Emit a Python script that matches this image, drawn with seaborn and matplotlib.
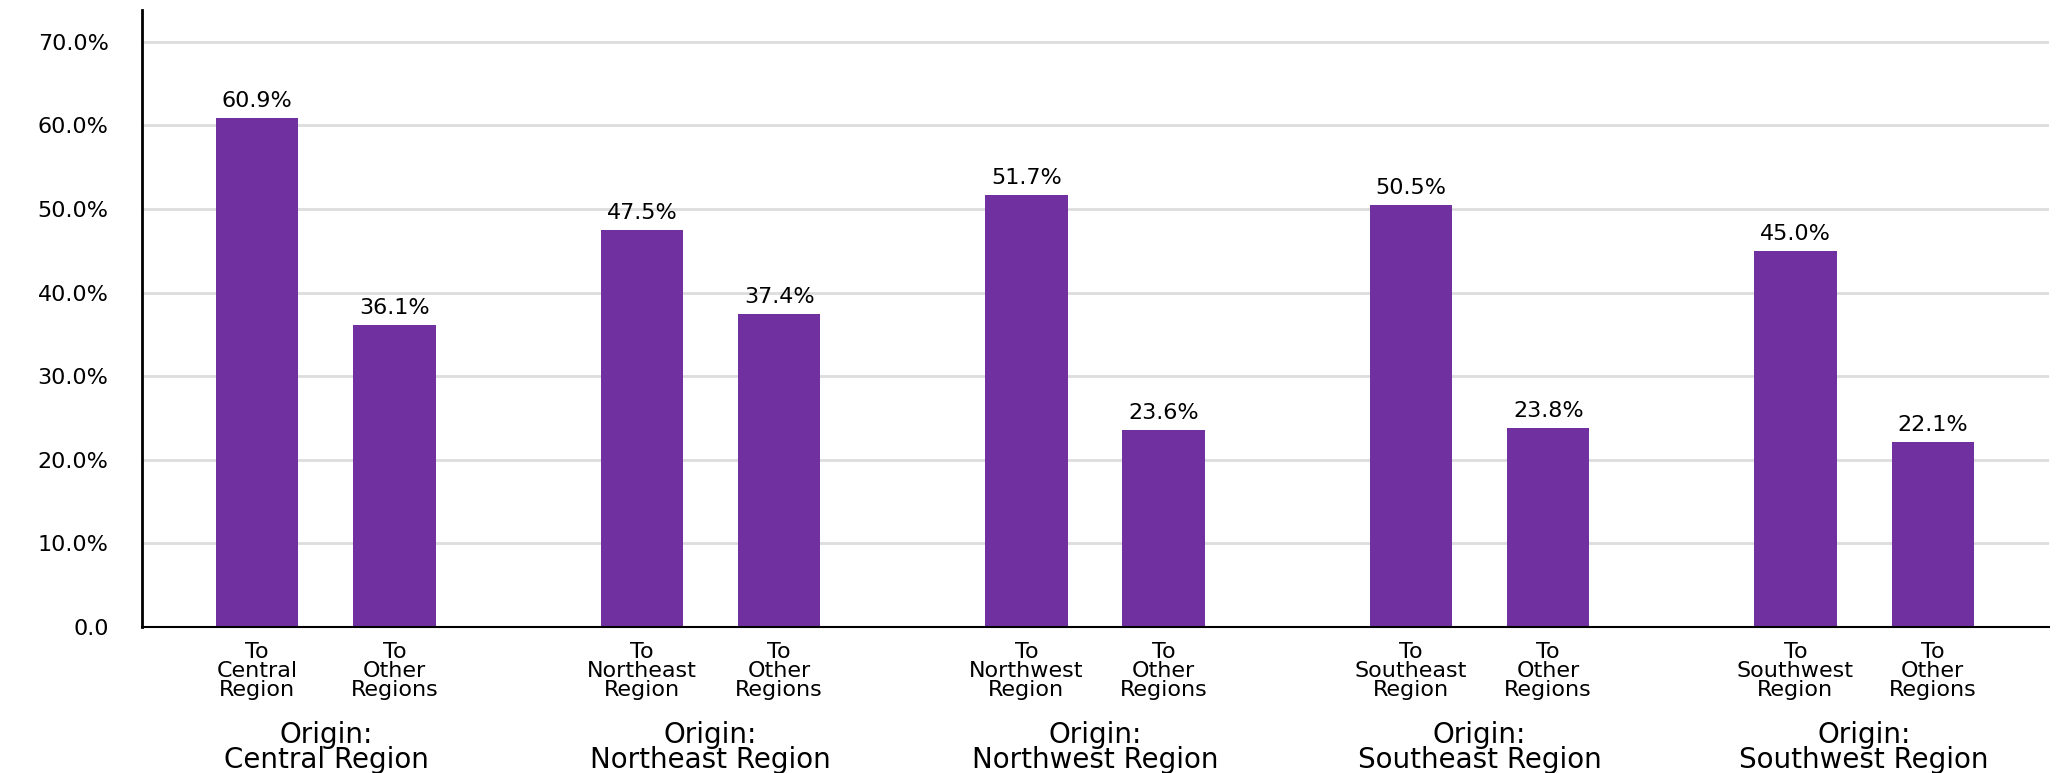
import matplotlib
matplotlib.use("Agg")
import matplotlib.pyplot as plt
import pandas as pd
import seaborn as sns

# origin regions and shares of trips (%)
origins = ["Central", "Northeast", "Northwest", "Southeast", "Southwest"]
to_same_region = [60.9, 47.5, 51.7, 50.5, 45.0]
to_other_regions = [36.1, 37.4, 23.6, 23.8, 22.1]
y_ticks = [0, 10, 20, 30, 40, 50, 60, 70]
y_tick_labels = ["0.0", "10.0%", "20.0%", "30.0%", "40.0%", "50.0%", "60.0%", "70.0%"]

group_step = 2.8
rows = []
for i, name in enumerate(origins):
    rows.append({"pos": i * group_step, "share": to_same_region[i],
                 "label": f"To\n{name}\nRegion"})
    rows.append({"pos": i * group_step + 1, "share": to_other_regions[i],
                 "label": "To\nOther\nRegions"})
df = pd.DataFrame(rows)

sns.set_theme(style="white")
plt.rcParams["font.family"] = ["DejaVu Sans"]
plt.rcParams["text.color"] = "black"
plt.rcParams["xtick.color"] = "black"
plt.rcParams["ytick.color"] = "black"

fig = plt.figure(figsize=(20.66, 7.73), dpi=100)
ax = fig.add_axes([0.0687, 0.189, 0.992 - 0.0687, 0.987 - 0.189])

sns.barplot(data=df, x="pos", y="share", native_scale=True, width=0.6,
            color="#7030A0", saturation=1, edgecolor="none", ax=ax)

ax.bar_label(ax.containers[0], fmt="%.1f%%", padding=5, fontsize=16, color="black")

ax.set_xlim(-0.84, (len(origins) - 1) * group_step + 1 + 0.85)
ax.set_ylim(0, 73.8)
ax.set_yticks(y_ticks, labels=y_tick_labels)
ax.set_xticks(df["pos"], labels=df["label"])
ax.tick_params(axis="y", length=15, width=1.2, pad=9, labelsize=16)
ax.tick_params(axis="x", length=0, pad=11, labelsize=16)
for lab in ax.get_xticklabels():
    lab.set_linespacing(0.92)
ax.set_xlabel("")
ax.set_ylabel("")

ax.yaxis.grid(True, color="#dddddd", linewidth=2)
ax.set_axisbelow(True)
sns.despine(ax=ax, top=True, right=True)
ax.spines["left"].set_linewidth(2)
ax.spines["left"].set_color("black")
ax.spines["bottom"].set_linewidth(1.5)
ax.spines["bottom"].set_color("black")

for i, name in enumerate(origins):
    ax.text(i * group_step + 0.5, -0.152, f"Origin:\n{name} Region",
            transform=ax.get_xaxis_transform(), ha="center", va="top",
            fontsize=20, linespacing=0.88)

fig.savefig("out.png", dpi=100)
